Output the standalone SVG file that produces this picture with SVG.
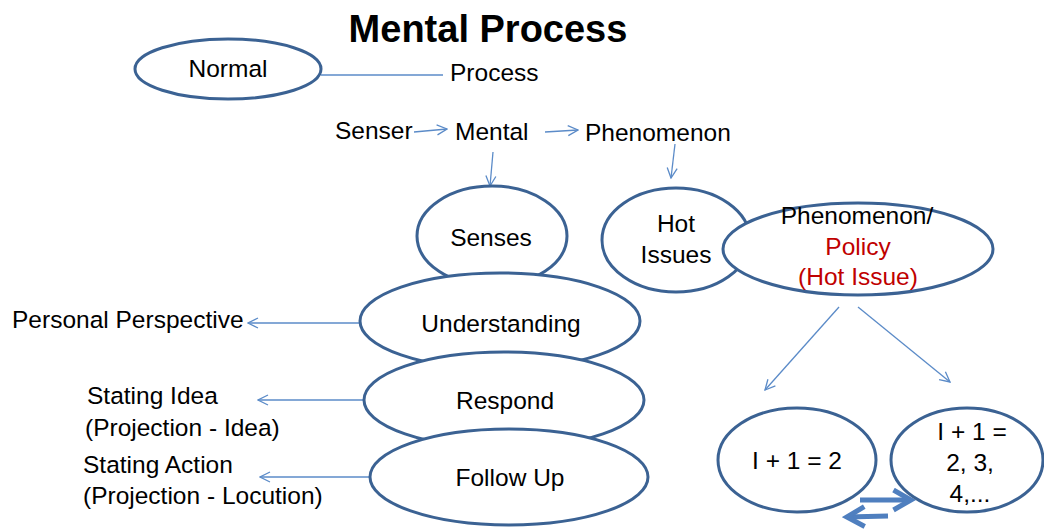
<svg xmlns="http://www.w3.org/2000/svg" width="1044" height="530" viewBox="0 0 1044 530">
<defs>
<style>
text{font-family:"Liberation Sans",Arial,sans-serif;font-size:24.5px;fill:#000;text-anchor:middle}
.l{text-anchor:start}
.red{fill:#C00000}
.node{fill:#fff;stroke:#3B6293;stroke-width:3}
.con{stroke:#5B8BC8;stroke-width:1.3;fill:none}
.thick{stroke:#4F7FBF;stroke-width:5;fill:none}
</style>
<marker id="ah" viewBox="0 0 12 12" refX="11" refY="6" markerWidth="12" markerHeight="12" markerUnits="userSpaceOnUse" orient="auto">
<path d="M1,1 L11,6 L1,11" fill="none" stroke="#5B8BC8" stroke-width="1.3"/>
</marker>
<marker id="bh" viewBox="0 0 10 10" refX="8" refY="5" markerWidth="5" markerHeight="5" orient="auto">
<path d="M1,1 L8,5 L1,9" fill="none" stroke="#4F7FBF" stroke-width="2"/>
</marker>
</defs>
<rect width="1044" height="530" fill="#fff"/>
<text x="488" y="42" style="font-size:38px;font-weight:bold">Mental Process</text>

<g id="connectors">
<line class="con" x1="321" y1="75" x2="443" y2="75"/>
<line class="con" x1="414" y1="132" x2="447" y2="129" marker-end="url(#ah)"/>
<line class="con" x1="545" y1="132" x2="578" y2="130" marker-end="url(#ah)"/>
<line class="con" x1="493" y1="152" x2="490" y2="186" marker-end="url(#ah)"/>
<line class="con" x1="675" y1="144" x2="671" y2="178" marker-end="url(#ah)"/>
<line class="con" x1="359" y1="323" x2="248" y2="323" marker-end="url(#ah)"/>
<line class="con" x1="370" y1="400" x2="258" y2="400" marker-end="url(#ah)"/>
<line class="con" x1="373" y1="477" x2="260" y2="477" marker-end="url(#ah)"/>
<line class="con" x1="839" y1="307" x2="765" y2="390" marker-end="url(#ah)"/>
<line class="con" x1="858" y1="307" x2="950" y2="382" marker-end="url(#ah)"/>
<line class="thick" x1="860" y1="500" x2="911" y2="500" marker-end="url(#bh)"/>
<line class="thick" x1="888" y1="516" x2="847" y2="517" marker-end="url(#bh)"/>
</g>

<g id="normal"><ellipse class="node" cx="228" cy="69" rx="93" ry="30"/><text x="228" y="77">Normal</text></g>
<g id="process"><text class="l" x="450" y="81">Process</text></g>
<g id="senser"><text class="l" x="335" y="139">Senser</text></g>
<g id="mental"><text class="l" x="455" y="140">Mental</text></g>
<g id="phenomenon"><text class="l" x="585" y="141">Phenomenon</text></g>

<g id="senses"><ellipse class="node" cx="492" cy="236" rx="75" ry="50"/><text x="491" y="246">Senses</text></g>
<g id="hot-issues"><ellipse class="node" cx="676" cy="240" rx="74" ry="52"/><text x="676" y="232">Hot</text><text x="676" y="263">Issues</text></g>
<g id="policy"><ellipse class="node" cx="858" cy="249" rx="135" ry="46"/><text x="857" y="224">Phenomenon/</text><text class="red" x="858" y="255">Policy</text><text class="red" x="858" y="285">(Hot Issue)</text></g>

<g id="understanding"><ellipse class="node" cx="500" cy="321" rx="140" ry="48"/><text x="501" y="332">Understanding</text></g>
<g id="respond"><ellipse class="node" cx="504" cy="400" rx="140" ry="48"/><text x="505" y="409">Respond</text></g>
<g id="follow-up"><ellipse class="node" cx="509" cy="477" rx="139" ry="48"/><text x="510" y="486">Follow Up</text></g>

<g id="personal-perspective"><text class="l" x="12" y="328">Personal Perspective</text></g>
<g id="stating-idea"><text class="l" x="87" y="404">Stating Idea</text><text class="l" x="85" y="436">(Projection - Idea)</text></g>
<g id="stating-action"><text class="l" x="83" y="473">Stating Action</text><text class="l" x="83" y="504">(Projection - Locution)</text></g>

<g id="one-plus-one-two"><ellipse class="node" cx="797" cy="460" rx="79" ry="52"/><text x="797" y="469">I + 1 = 2</text></g>
<g id="one-plus-one-many"><ellipse class="node" cx="967" cy="460" rx="76" ry="52"/><text x="972" y="440">I + 1 =</text><text x="970" y="471">2, 3,</text><text x="970" y="502">4,...</text></g>
</svg>
